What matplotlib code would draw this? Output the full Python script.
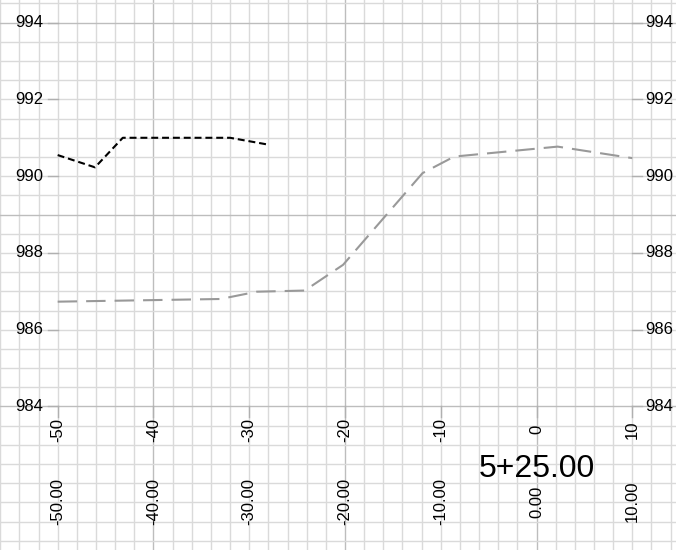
import matplotlib
matplotlib.use("Agg")
import matplotlib.pyplot as plt
from matplotlib.ticker import MultipleLocator
import numpy as np

plt.rcParams['font.family'] = ['Liberation Sans', 'DejaVu Sans']
plt.rcParams['lines.scale_dashes'] = False

# Data
existing_x = [-50.0, -46.1, -43.2, -32.0, -28.2]
existing_y = [990.55, 990.23, 991.0, 991.0, 990.83]

proposed_x = [-50.0, -33.0, -29.2, -24.2, -20.2, -11.9, -8.6, 2.2, 10.0]
proposed_y = [986.73, 986.80, 986.99, 987.02, 987.69, 990.08, 990.51, 990.77, 990.47]

elev_ticks = [984, 986, 988, 990, 992, 994]
offset_ticks = [-50, -40, -30, -20, -10, 0, 10]
offset_labels = ["-50", "-40", "-30", "-20", "-10", "0", "10"]
offset_labels2 = ["-50.00", "-40.00", "-30.00", "-20.00", "-10.00", "0.00", "10.00"]
station_label = "5+25.00"

fig = plt.figure(figsize=(6.76, 5.5), dpi=100)
ax = fig.add_axes([0, 0, 1, 1])
ax.set_xlim(-56.02, 14.56)
ax.set_ylim(980.26, 994.59)
for s in ax.spines.values():
    s.set_visible(False)

ax.xaxis.set_minor_locator(MultipleLocator(2))
ax.xaxis.set_major_locator(MultipleLocator(20))
ax.yaxis.set_minor_locator(MultipleLocator(0.5))
ax.yaxis.set_major_locator(MultipleLocator(5))
ax.yaxis.set_major_locator(plt.FixedLocator(np.arange(979, 996, 5)))
ax.grid(which='minor', color='#dadada', lw=1.0)
ax.grid(which='major', color='#bdbdbd', lw=1.0)
ax.tick_params(which='both', length=0, labelbottom=False, labelleft=False)
ax.set_axisbelow(True)

tick_col = '#b0b0b0'
xl, xr = offset_ticks[0], offset_ticks[-1]
bottom = elev_ticks[0]
for e in elev_ticks:
    ax.plot([xl - 1.0, xl], [e, e], color=tick_col, lw=1.0)
    ax.plot([xr, xr + 1.0], [e, e], color=tick_col, lw=1.0)
    ax.text(xl - 1.5, e, str(e), ha='right', va='center', fontsize=12, color='black')
    ax.text(xr + 1.3, e, str(e), ha='left', va='center', fontsize=12, color='black')

for x, l1, l2 in zip(offset_ticks, offset_labels, offset_labels2):
    ax.plot([x, x], [bottom, bottom - 0.27], color=tick_col, lw=1.0)
    ax.text(x, 983.39, l1, rotation=90, ha='center', va='center', fontsize=12)
    ax.text(x, 981.52, l2, rotation=90, ha='center', va='center', fontsize=12)

ax.text(0, 982.16, station_label, ha='center', va='baseline', fontsize=23)

l1, = ax.plot(existing_x, existing_y, color='black', lw=1.5)
l1.set_dashes([5, 2.8])
l2, = ax.plot(proposed_x, proposed_y, color='#999999', lw=1.5)
l2.set_dashes([14, 6.5])

fig.savefig('out.png', dpi=100)
